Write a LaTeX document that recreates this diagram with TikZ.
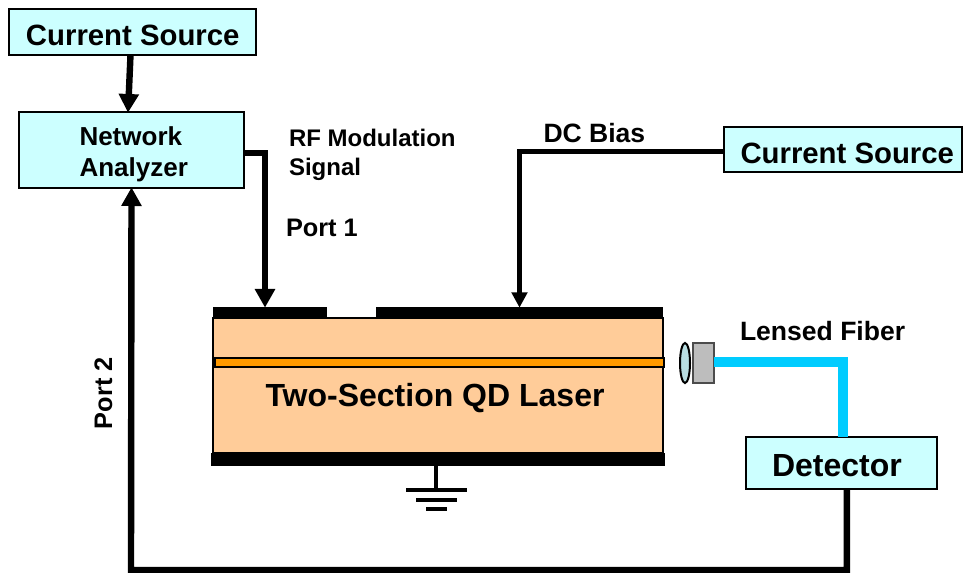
\documentclass[tikz,border=0pt]{standalone}
\usepackage{fontspec}
\setmainfont{Liberation Sans}
\usetikzlibrary{arrows.meta}
\definecolor{boxfill}{HTML}{CCFFFF}
\definecolor{laserfill}{HTML}{FFCC99}
\definecolor{activefill}{HTML}{FF9900}
\definecolor{lensfill}{HTML}{B8DEE2}
\definecolor{mountfill}{HTML}{BDBDBD}
\definecolor{fibercol}{HTML}{00CCFF}
\tikzset{
  x=0.75pt,y=-0.75pt,
  sized/.style 2 args={minimum width=#1*0.75pt,minimum height=#2*0.75pt,inner sep=0pt,outer sep=0pt,rectangle},
  instr/.style={draw=black,line width=1.5pt,fill=boxfill},
  solid block/.style={fill=black,draw=none},
  wire/.style={draw=black,line width=4.8pt},
  wirearrow/.style={wire,-{Triangle[length=14pt,width=14.5pt]},shorten >=-0.5pt},
  thinwirearrow/.style={draw=black,line width=3.75pt,-{Triangle[length=11.5pt,width=11.5pt]},shorten >=-0.5pt},
  fibre/.style={draw=fibercol,line width=7.5pt},
  lab/.style={font=\bfseries\fontsize{#1}{#1}\selectfont,inner sep=0pt,outer sep=0pt,anchor=base west},
  gnd/.style={draw=black,line width=3pt},
}
\begin{document}
\begin{tikzpicture}
\useasboundingbox (0,0) rectangle (963,573);
% laser
\node[sized={450}{135},draw=black,line width=1.5pt,fill=laserfill] (laser) at (438,385.5) {};
\node[sized={114}{11},solid block] (c1) at (270,312.5) {};
\node[sized={287}{11},solid block] (c2) at (519.5,312.5) {};
\node[sized={449}{9},draw=black,line width=0.9pt,fill=activefill] (active) at (439.5,362.5) {};
\node[sized={454}{13},solid block] (cb) at (438,459.5) {};
% instruments
\node[sized={247}{46},instr] (cs1) at (132.5,32) {};
\node[sized={225}{76},instr] (na) at (131.5,150) {};
\node[sized={238}{45},instr] (cs2) at (843,149.5) {};
\node[sized={191}{52},instr] (det) at (841.5,463) {};
% lens and fiber
\node[sized={21}{40},draw=black!70,line width=1.2pt,fill=mountfill] (mount) at (703.5,363) {};
\draw[black,line width=1.5pt,fill=lensfill] (685,363) ellipse [x radius=5,y radius=20];
\coordinate (bend) at (843,362);
\draw[fibre] (mount.east |- bend) -- (bend) -- (bend |- det.north);
% wires
\draw[wirearrow] ([xshift=-1.5pt]cs1.south) -- ([xshift=-2.6pt]na.north);
\draw[wirearrow] ([yshift=-2.25pt]na.east) -| ([xshift=-3.75pt]c1.north);
\draw[thinwirearrow] (cs2.west |- 0,152) -| (c2.north);
\draw[wirearrow] ([xshift=4pt]det.south) |- (131,570) -- (na.south);
% ground
\coordinate (g0) at (436,488);
\draw[gnd] (cb.south -| g0) -- (g0);
\draw[gnd] (406,489.5) -- (467,489.5);
\draw[gnd] (416,499.5) -- (457,499.5);
\draw[gnd] (426,508.5) -- (447,508.5);
% labels
\node[lab=22] (t1) at (26,45.5) {Current Source};
\node[lab=22] (t2) at (740.5,163.5) {Current Source};
\node[lab=19.5] (t3) at (79.5,145.5) {Network};
\node[lab=19.5] (t4) at (79.5,177) {Analyzer};
\node[lab=18] (t5) at (289,146.5) {RF Modulation};
\node[lab=18] (t6) at (289,176) {Signal};
\node[lab=19] (t7) at (286,236.5) {Port 1};
\node[lab=19.9] (t8) at (543.5,142.5) {DC Bias};
\node[lab=19.9] (t9) at (740,340) {Lensed Fiber};
\node[lab=24] (t10) at (265.5,406) {Two-Section QD Laser};
\node[lab=24] (t11) at (772,476) {Detector};
\node[lab=19,rotate=90] (t12) at (112,429) {Port 2};
\end{tikzpicture}
\end{document}
